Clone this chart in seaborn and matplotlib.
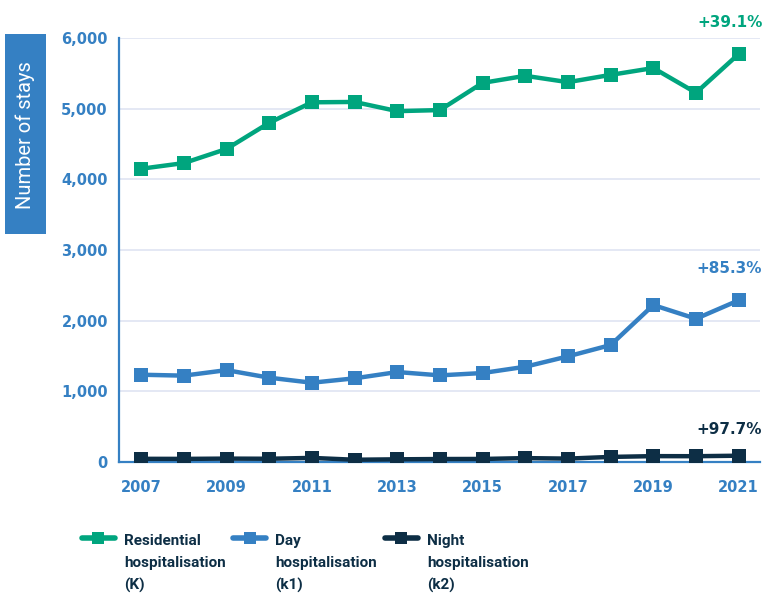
import numpy as np
import pandas as pd
import matplotlib
matplotlib.use("Agg")
import matplotlib.pyplot as plt
import seaborn as sns
from matplotlib.legend_handler import HandlerLine2D
from matplotlib.patches import Rectangle

# ---- data -------------------------------------------------------------
years = list(range(2007, 2022))
residential = [4150, 4230, 4430, 4800, 5090, 5095, 4965, 4980, 5365, 5465,
               5375, 5478, 5575, 5225, 5773]
day = [1235, 1222, 1300, 1193, 1122, 1184, 1273, 1226, 1259, 1348,
       1495, 1655, 2221, 2027, 2288]
night = [45, 44, 48, 46, 58, 32, 38, 42, 43, 55, 48, 72, 83, 82, 89]

series_names = ["Residential\nhospitalisation\n(K)",
                "Day\nhospitalisation\n(k1)",
                "Night\nhospitalisation\n(k2)"]
growth_labels = ["+39.1%", "+85.3%", "+97.7%"]
y_ticks = [0, 1000, 2000, 3000, 4000, 5000, 6000]
x_ticks = [2007, 2009, 2011, 2013, 2015, 2017, 2019, 2021]
y_title = "Number of stays"

# ---- style ------------------------------------------------------------
GREEN = "#00A57E"
BLUE = "#3580C3"
NAVY = "#0D2E45"
GRID = "#DFE4F2"
colors = [GREEN, BLUE, NAVY]

sns.set_theme(style="white")
plt.rcParams["font.family"] = ["DejaVu Sans"]

df = pd.DataFrame({
    "year": years * 3,
    "stays": residential + day + night,
    "series": [series_names[0]] * len(years)
              + [series_names[1]] * len(years)
              + [series_names[2]] * len(years),
})

fig = plt.figure(figsize=(7.63, 5.95), dpi=100)
ax = fig.add_axes([119 / 763, 1 - 462 / 595, (760 - 119) / 763, (462 - 38) / 595])

sns.lineplot(data=df, x="year", y="stays", hue="series", style="series",
             palette=colors, markers=["s", "s", "s"], dashes=False,
             linewidth=3.2, markersize=10, markeredgewidth=0,
             legend=False, ax=ax)

ax.set_xlim(2006.48, 2021.5)
ax.set_ylim(0, 6000)
ax.set_yticks(y_ticks)
ax.set_yticklabels([f"{v:,}" for v in y_ticks])
ax.set_xticks(x_ticks)
ax.set_xlabel("")
ax.set_ylabel("")
ax.tick_params(axis="both", length=0, labelcolor=BLUE, labelsize=10.5)
ax.tick_params(axis="x", pad=13)
ax.tick_params(axis="y", pad=8)
for lab in ax.get_xticklabels() + ax.get_yticklabels():
    lab.set_fontweight("bold")

ax.grid(axis="y", color=GRID, linewidth=1.2)
ax.grid(axis="x", visible=False)
ax.set_axisbelow(True)
for side in ["top", "right"]:
    ax.spines[side].set_visible(False)
for side in ["left", "bottom"]:
    ax.spines[side].set_color(BLUE)
    ax.spines[side].set_linewidth(1.6)
    ax.spines[side].set_zorder(1)

# growth labels above the final point of each series
finals = [residential[-1], day[-1], night[-1]]
offsets = [(17, 23), (17, 23), (17, 19)]
for val, txt, col, off in zip(finals, growth_labels, colors, offsets):
    ax.annotate(txt, xy=(years[-1], val), xytext=off, textcoords="offset points",
                ha="right", va="center", color=col, fontsize=11,
                fontweight="bold", annotation_clip=False)

# vertical axis title in a filled box
fig.patches.append(Rectangle((5 / 763, 1 - 234 / 595), 41 / 763, 200 / 595,
                             transform=fig.transFigure, facecolor=BLUE,
                             edgecolor="none", zorder=0))
fig.text(25.5 / 763, 1 - 135 / 595, y_title, rotation=90, color="white",
         ha="center", va="center", fontsize=14.5, family=["Roboto", "DejaVu Sans"])


class TopAlignedLine(HandlerLine2D):
    """Line handle aligned with the first line of a multi-line label."""

    def __init__(self, dy=0.0, **kw):
        super().__init__(**kw)
        self.dy = dy

    def create_artists(self, legend, orig_handle, xdescent, ydescent,
                       width, height, fontsize, trans):
        artists = super().create_artists(legend, orig_handle, xdescent, ydescent,
                                         width, height, fontsize, trans)
        for a in artists:
            a.set_ydata(np.asarray(a.get_ydata()) + self.dy)
        return artists


handles = ax.get_lines()[:3]
leg_fs = 11
linesp = 1.72
dy = 18.6
leg = fig.legend(handles, series_names, loc="upper left",
                 bbox_to_anchor=(82 / 763, 1 - 534 / 595), ncol=3, frameon=False,
                 fontsize=leg_fs, handlelength=2.15, handletextpad=0.6,
                 columnspacing=0.5, borderaxespad=0, borderpad=0,
                 handler_map={type(handles[0]): TopAlignedLine(dy=dy)},
                 prop={"family": ["Roboto", "DejaVu Sans"], "weight": "semibold",
                       "size": leg_fs})
for t in leg.get_texts():
    t.set_color(NAVY)
    t.set_linespacing(linesp)
for lh in leg.get_lines():
    lh.set_linewidth(4)
    lh.set_markersize(9)

fig.savefig("out.png", dpi=100)
